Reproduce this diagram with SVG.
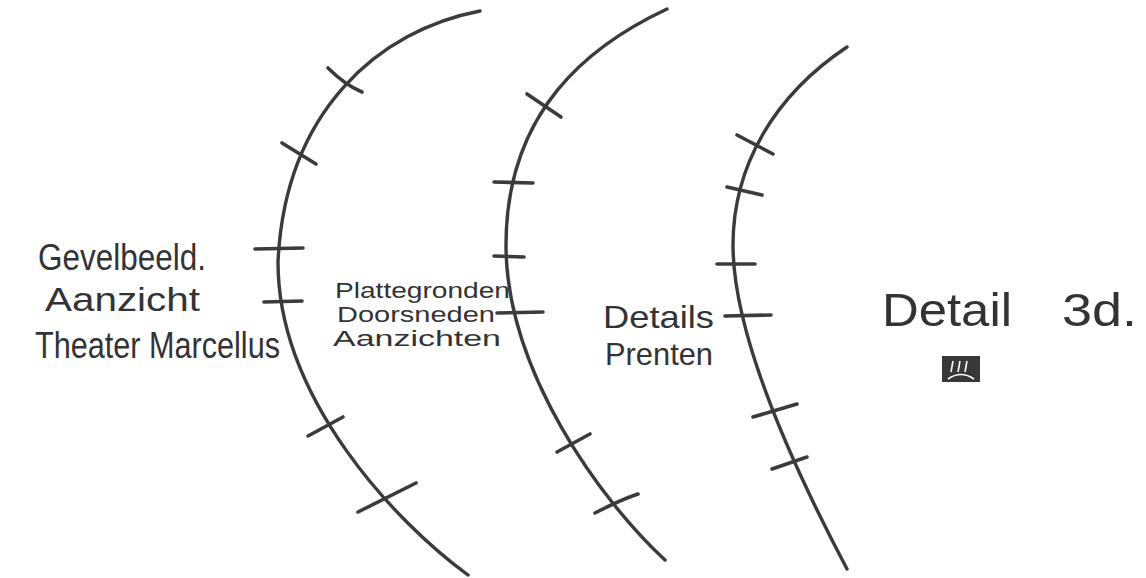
<svg xmlns="http://www.w3.org/2000/svg" width="1146" height="578" viewBox="0 0 1146 578">
<style>
.arc{fill:none;stroke:#3b3b3d;stroke-width:3.4;stroke-linecap:round;stroke-linejoin:round}
.tick{fill:none;stroke:#3b3b3d;stroke-width:3.6;stroke-linecap:round}
.lbl{font-family:"Liberation Sans","DejaVu Sans",sans-serif;fill:#333335}
</style>
<rect width="1146" height="578" fill="#ffffff"/>
<g id="connectors">
<path class="arc" d="M480,11 C380,30 285,110 278,262 C278,400 398,524 468,575"/>
<path class="arc" d="M667,9 C590,45 506,110 506,245 C506,370 600,500 665,560"/>
<path class="arc" d="M847,47 C775,95 733,165 733,245 C733,340 800,480 847,569"/>
<g id="ticks1">
<path class="tick" d="M328,68 Q345,85 362,92"/>
<path class="tick" d="M282,143 L316,164"/>
<path class="tick" d="M255,249 L303,248"/>
<path class="tick" d="M264,302 L302,301"/>
<path class="tick" d="M308,436 L343,417"/>
<path class="tick" d="M358,512 L416,483"/>
</g>
<g id="ticks2">
<path class="tick" d="M527,94 L561,117"/>
<path class="tick" d="M494,182 L533,183"/>
<path class="tick" d="M494,256 L524,257"/>
<path class="tick" d="M497,313 L543,312"/>
<path class="tick" d="M557,452 L590,434"/>
<path class="tick" d="M595,513 Q620,500 638,494"/>
</g>
<g id="ticks3">
<path class="tick" d="M737,135 L773,154"/>
<path class="tick" d="M727,187 L762,195"/>
<path class="tick" d="M717,264 L755,264"/>
<path class="tick" d="M725,316 L771,315"/>
<path class="tick" d="M753,417 L797,404"/>
<path class="tick" d="M772,469 L807,457"/>
</g>
</g>
<g id="node-gevel">
<text class="lbl" x="38" y="270" font-size="36" textLength="168" lengthAdjust="spacingAndGlyphs">Gevelbeeld.</text>
<text class="lbl" x="45" y="311" font-size="34" textLength="155" lengthAdjust="spacingAndGlyphs">Aanzicht</text>
<text class="lbl" x="35" y="358" font-size="36" textLength="245" lengthAdjust="spacingAndGlyphs">Theater Marcellus</text>
</g>
<g id="node-platte">
<text class="lbl" x="335" y="298" font-size="22" textLength="175" lengthAdjust="spacingAndGlyphs">Plattegronden</text>
<text class="lbl" x="337" y="322" font-size="22" textLength="158" lengthAdjust="spacingAndGlyphs">Doorsneden</text>
<text class="lbl" x="333" y="346" font-size="22" textLength="168" lengthAdjust="spacingAndGlyphs">Aanzichten</text>
</g>
<g id="node-details">
<text class="lbl" x="603" y="328" font-size="32" textLength="111" lengthAdjust="spacingAndGlyphs">Details</text>
<text class="lbl" x="605" y="365" font-size="32" textLength="108" lengthAdjust="spacingAndGlyphs">Prenten</text>
</g>
<g id="node-detail3d">
<text class="lbl" x="882" y="326" font-size="46"><tspan x="882" textLength="130" lengthAdjust="spacingAndGlyphs">Detail</tspan><tspan x="1062" textLength="75" lengthAdjust="spacingAndGlyphs">3d.</tspan></text>
<rect x="942" y="356" width="38" height="26" fill="#38383a"/>
<path d="M953,361 L951,372 M960,361 L958,372 M967,361 L965,372 M948,379 Q961,370 974,379" stroke="#ffffff" stroke-width="1.6" fill="none"/>
</g>
</svg>
